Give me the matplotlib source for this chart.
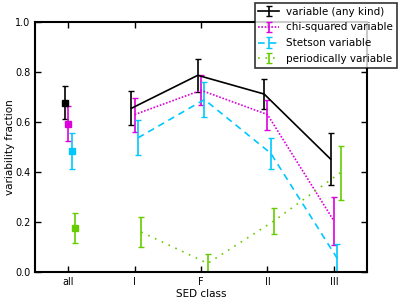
import matplotlib
matplotlib.use("Agg")
import matplotlib.pyplot as plt
import numpy as np

categories = ["all", "I", "F", "II", "III"]
any_var = [0.678, 0.655, 0.787, 0.712, 0.452]
any_err = [0.065, 0.068, 0.066, 0.060, 0.105]
chi_var = [0.593, 0.630, 0.727, 0.630, 0.205]
chi_err = [0.070, 0.068, 0.060, 0.060, 0.095]
stet_var = [0.483, 0.537, 0.690, 0.475, 0.055]
stet_err = [0.072, 0.070, 0.070, 0.063, 0.058]
per_var = [0.178, 0.160, 0.035, 0.205, 0.398]
per_err = [0.060, 0.060, 0.036, 0.052, 0.108]

series = [
    ("variable (any kind)", any_var, any_err, "black", "-", -0.05),
    ("chi-squared variable", chi_var, chi_err, "#dd00dd", (0, (1, 1)), 0.0),
    ("Stetson variable", stet_var, stet_err, "#00c8ff", (0, (4, 3)), 0.05),
    ("periodically variable", per_var, per_err, "#66cc00", (0, (1, 3.5)), 0.10),
]

fig = plt.figure(figsize=(3.99, 3.02), dpi=100)
ax = fig.add_axes([0.088, 0.099, 0.832, 0.828])
x = np.arange(len(categories))
for label, vals, errs, col, ls, off in series:
    xs = x + off
    ax.errorbar(xs[:1], vals[:1], yerr=errs[:1], fmt="s", color=col, ms=4,
                capsize=2.5, elinewidth=1.2, capthick=1)
    ax.errorbar(xs[1:], vals[1:], yerr=errs[1:], color=col, ls=ls, lw=1.2,
                capsize=2.5, elinewidth=1.2, capthick=1, label=label)

ax.set_xlim(-0.5, 4.5)
ax.set_ylim(0, 1.0)
ax.set_xticks(x)
ax.set_xticklabels(categories)
ax.set_yticks(np.arange(0, 1.01, 0.2))
ax.set_yticklabels([f"{v:.1f}" for v in np.arange(0, 1.01, 0.2)])
ax.tick_params(direction="in", top=True, right=True, labelsize=7, length=4, width=1, pad=3.5)
for s in ax.spines.values():
    s.set_linewidth(1.5)
ax.set_xlabel("SED class", fontsize=7.5, labelpad=1.5)
ax.set_ylabel("variability fraction", fontsize=7.5, labelpad=0)
leg = ax.legend(loc="upper right", bbox_to_anchor=(1.09, 1.076), fontsize=7.5,
                frameon=True, fancybox=False, edgecolor="black",
                handlelength=2.0, borderpad=0.35, labelspacing=0.55,
                handletextpad=0.7, borderaxespad=0)
leg.get_frame().set_linewidth(1.2)
fig.savefig("out.png", dpi=100)
